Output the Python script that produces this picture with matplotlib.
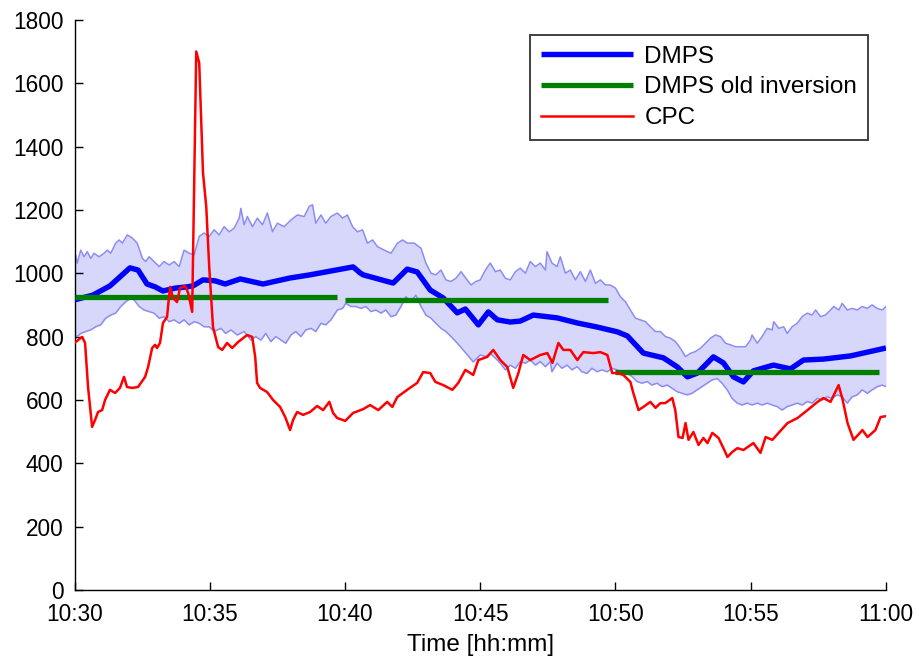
import matplotlib
matplotlib.use("Agg")
import matplotlib.pyplot as plt
import numpy as np

plt.rcParams['font.family'] = ['Liberation Sans', 'DejaVu Sans']

# Time axis is minutes after 10:30
tick_minutes = [0, 5, 10, 15, 20, 25, 30]
tick_labels = ["10:30", "10:35", "10:40", "10:45", "10:50", "10:55", "11:00"]
y_ticks = [0, 200, 400, 600, 800, 1000, 1200, 1400, 1600, 1800]

# DMPS total number concentration (smoothed)
dmps_t = [0.0, 0.68, 1.31, 2.05, 2.35, 2.68, 2.98, 3.27, 3.72, 4.16, 4.38, 4.75,
          5.20, 5.57, 6.13, 6.60, 6.97, 7.97, 8.71, 10.30, 10.56, 10.67, 11.78,
          12.30, 12.67, 13.15, 13.63, 14.15, 14.45, 14.93, 15.30, 15.63, 16.11,
          16.48, 16.96, 17.85, 18.59, 19.33, 20.07, 20.44, 21.03, 21.77, 22.29,
          22.66, 23.03, 23.62, 23.99, 24.36, 24.73, 25.10, 25.84, 26.47, 26.95,
          27.69, 28.69, 30.0]
dmps_v = [916, 931, 960, 1017, 1010, 966, 957, 944, 953, 957, 960, 979,
          976, 966, 982, 973, 966, 985, 995, 1020, 1001, 995, 969,
          1013, 1004, 947, 922, 875, 887, 837, 878, 853, 846,
          849, 868, 859, 843, 830, 815, 802, 748, 733, 704,
          673, 685, 736, 717, 673, 657, 692, 710, 698, 726,
          729, 739, 764]

# DMPS uncertainty envelope, upper edge
upper_t = [0.00, 0.10, 0.23, 0.35, 0.47, 0.60, 0.72, 0.91, 1.09, 1.21, 1.34, 1.52,
           1.65, 1.77, 1.95, 2.14, 2.32, 2.51, 2.63, 2.76, 2.94, 3.13, 3.31, 3.50,
           3.68, 3.87, 4.05, 4.24, 4.42, 4.61, 4.79, 4.98, 5.16, 5.35, 5.53, 5.72,
           5.90, 6.09, 6.15, 6.27, 6.39, 6.58, 6.76, 6.95, 7.13, 7.32, 7.50, 7.75,
           8.00, 8.24, 8.49, 8.68, 8.80, 8.92, 9.11, 9.29, 9.48, 9.72, 9.91, 10.09,
           10.28, 10.46, 10.65, 10.83, 11.02, 11.20, 11.45, 11.70, 11.94, 12.13,
           12.31, 12.56, 12.81, 12.99, 13.18, 13.36, 13.55, 13.73, 13.92, 14.10,
           14.29, 14.47, 14.66, 14.84, 15.00, 15.19, 15.37, 15.56, 15.74, 15.93,
           16.11, 16.30, 16.48, 16.67, 16.85, 17.04, 17.22, 17.41, 17.47, 17.65,
           17.84, 17.96, 18.15, 18.33, 18.52, 18.70, 18.89, 19.07, 19.26, 19.44,
           19.63, 19.81, 20.00, 20.18, 20.37, 20.55, 20.74, 20.92, 21.11, 21.29,
           21.48, 21.66, 21.85, 22.03, 22.22, 22.40, 22.59, 22.77, 22.96, 23.14,
           23.33, 23.51, 23.70, 23.88, 24.07, 24.25, 24.44, 24.62, 24.81, 24.99,
           25.05, 25.24, 25.42, 25.61, 25.79, 25.85, 26.04, 26.22, 26.35, 26.53,
           26.72, 26.90, 27.09, 27.27, 27.40, 27.58, 27.76, 27.95, 28.07, 28.26,
           28.38, 28.57, 28.75, 28.94, 29.12, 29.31, 29.49, 29.68, 29.86, 30.00]
upper_v = [1073, 1032, 1073, 1052, 1068, 1047, 1063, 1052, 1063, 1073, 1063, 1095,
           1105, 1095, 1121, 1111, 1095, 1047, 1037, 1052, 1037, 1021, 1037, 1026,
           1037, 1021, 1073, 1063, 1058, 1116, 1127, 1116, 1137, 1121, 1147, 1131,
           1142, 1174, 1205, 1153, 1179, 1147, 1174, 1153, 1190, 1131, 1158, 1147,
           1168, 1184, 1179, 1211, 1216, 1158, 1184, 1158, 1179, 1190, 1174, 1184,
           1147, 1131, 1137, 1095, 1105, 1084, 1073, 1063, 1095, 1105,
           1095, 1095, 1079, 1032, 1000, 995, 1010, 979, 974, 984,
           1005, 984, 963, 974, 979, 1010, 1032, 1005, 1010, 984,
           979, 1005, 1016, 1000, 1037, 1021, 1032, 1010, 1068, 1032,
           1021, 1052, 1000, 1010, 979, 1005, 974, 1010, 968, 979,
           963, 963, 953, 926, 910, 884, 858, 853, 847, 831,
           816, 816, 800, 795, 784, 763, 737, 747, 753, 763,
           779, 795, 805, 800, 779, 774, 768, 768, 768, 789,
           805, 779, 800, 826, 821, 847, 826, 831, 810, 831,
           842, 863, 874, 868, 884, 863, 868, 884, 895, 884,
           905, 884, 889, 884, 895, 889, 900, 889, 884, 895]

# DMPS uncertainty envelope, lower edge
lower_t = [0.00, 0.10, 0.23, 0.41, 0.60, 0.78, 0.97, 1.15, 1.34, 1.52, 1.71, 1.89,
           2.08, 2.20, 2.39, 2.57, 2.76, 2.94, 3.13, 3.31, 3.50, 3.68, 3.87, 4.05,
           4.24, 4.42, 4.61, 4.79, 4.98, 5.16, 5.41, 5.59, 5.78, 6.02, 6.27, 6.52,
           6.70, 6.89, 7.07, 7.26, 7.44, 7.63, 7.81, 8.00, 8.18, 8.37, 8.55, 8.74,
           8.92, 9.11, 9.29, 9.48, 9.72, 9.91, 10.03, 10.22, 10.40, 10.59, 10.77,
           10.96, 11.14, 11.33, 11.51, 11.70, 11.88, 12.07, 12.25, 12.44, 12.62,
           12.81, 12.99, 13.18, 13.36, 13.55, 13.73, 13.92, 14.10, 14.37, 14.74,
           15.00, 15.19, 15.37, 15.56, 15.74, 15.93, 16.11, 16.30, 16.48, 16.67,
           16.85, 17.04, 17.22, 17.41, 17.59, 17.65, 17.84, 18.02, 18.21, 18.39,
           18.58, 18.76, 18.95, 19.13, 19.32, 19.50, 19.69, 19.87, 20.06, 20.24,
           20.43, 20.61, 20.80, 20.98, 21.17, 21.35, 21.54, 21.72, 21.91, 22.09,
           22.28, 22.46, 22.65, 22.83, 23.02, 23.20, 23.39, 23.57, 23.76, 23.94,
           24.13, 24.31, 24.50, 24.68, 24.87, 25.05, 25.24, 25.42, 25.61, 25.79,
           25.98, 26.16, 26.35, 26.53, 26.72, 26.90, 27.09, 27.27, 27.46, 27.64,
           27.83, 28.01, 28.20, 28.38, 28.57, 28.75, 28.94, 29.12, 29.31, 29.49,
           29.68, 29.86, 30.00]
lower_v = [805, 800, 810, 816, 821, 831, 837, 858, 868, 874, 895, 910,
           921, 916, 895, 884, 879, 874, 858, 863, 847, 853, 842, 853,
           837, 847, 842, 831, 831, 816, 826, 810, 821, 805, 816, 789,
           800, 789, 810, 784, 800, 789, 779, 805, 816, 800, 821, 826,
           816, 842, 837, 853, 884, 889, 905, 895, 895, 889, 895,
           879, 884, 874, 884, 863, 868, 895, 926, 910, 931,
           895, 868, 858, 842, 826, 816, 800, 784, 758, 720,
           742, 737, 747, 732, 716, 695, 710, 700, 721, 716,
           726, 710, 721, 705, 721, 689, 716, 700, 710, 695,
           705, 689, 684, 700, 689, 695, 689, 700, 695, 689,
           684, 674, 658, 653, 658, 647, 653, 642, 647, 637,
           626, 621, 616, 621, 632, 642, 653, 663, 668, 653,
           632, 605, 590, 584, 590, 584, 590, 584, 590, 584,
           579, 568, 579, 584, 590, 584, 595, 590, 605, 600,
           610, 605, 616, 610, 590, 610, 616, 632, 621, 632,
           642, 647, 642]

# DMPS with the old inversion: one mean value per 10-minute block
old_start = [0.0, 10.0, 20.0]
old_end = [9.70, 19.72, 29.75]
old_value = [926, 916, 689]

# CPC total number concentration
cpc_t = [0.0, 0.28, 0.39, 0.50, 0.65, 0.76, 0.87, 1.02, 1.13, 1.31, 1.50, 1.68,
         1.83, 1.94, 2.13, 2.35, 2.61, 2.72, 2.87, 2.98, 3.05, 3.16, 3.27, 3.42,
         3.53, 3.64, 3.79, 3.90, 4.09, 4.20, 4.35, 4.50, 4.61, 4.75, 4.87, 4.98,
         5.12, 5.31, 5.46, 5.64, 5.83, 6.05, 6.38, 6.57, 6.68, 6.75, 6.86, 7.12,
         7.34, 7.60, 7.79, 7.97, 8.08, 8.23, 8.45, 8.71, 8.97, 9.19, 9.42, 9.56,
         9.71, 10.01, 10.30, 10.67, 10.93, 11.23, 11.56, 11.75, 11.93, 12.30, 12.67,
         12.89, 13.15, 13.34, 13.63, 13.97, 14.19, 14.45, 14.74, 14.93, 15.26,
         15.48, 15.74, 16.00, 16.22, 16.41, 16.59, 16.85, 17.22, 17.48, 17.67,
         17.89, 18.07, 18.33, 18.59, 18.81, 19.18, 19.44, 19.70, 19.88, 20.07,
         20.29, 20.55, 20.66, 20.85, 21.03, 21.29, 21.48, 21.66, 21.84, 22.10,
         22.21, 22.33, 22.48, 22.59, 22.70, 22.88, 23.07, 23.25, 23.40, 23.58,
         23.81, 23.99, 24.14, 24.32, 24.51, 24.73, 25.10, 25.36, 25.55, 25.80,
         26.03, 26.36, 26.73, 27.10, 27.47, 27.69, 27.95, 28.25, 28.40, 28.58,
         28.80, 29.13, 29.32, 29.61, 29.80, 30.0]
cpc_v = [780, 799, 780, 641, 515, 537, 562, 568, 600, 632, 622, 638,
         673, 641, 638, 641, 673, 704, 764, 774, 764, 780, 843, 862,
         957, 922, 909, 953, 960, 938, 878, 1700, 1664, 1317, 1210, 1020,
         830, 767, 758, 780, 764, 783, 805, 799, 736, 654, 638, 625,
         600, 578, 546, 505, 537, 562, 553, 562, 581, 568, 594, 559,
         543, 534, 559, 571, 584, 568, 594, 578, 609, 632, 654,
         688, 685, 657, 647, 632, 654, 695, 679, 726, 736,
         758, 726, 704, 638, 685, 742, 726, 742, 748, 717,
         780, 758, 758, 726, 751, 748, 751, 742, 685, 685,
         679, 657, 622, 568, 578, 594, 575, 590, 590, 606,
         568, 483, 480, 527, 474, 499, 458, 480, 464, 496,
         480, 448, 420, 436, 448, 442, 464, 433, 483, 474,
         496, 527, 543, 568, 594, 606, 594, 647, 600, 527,
         474, 505, 483, 505, 546, 549]

fig = plt.figure(figsize=(9.2, 6.6), dpi=100)
ax = fig.add_axes([0.081, 0.106, 0.882, 0.864])

# Envelope: shared time grid so the fill can follow both edges
grid = np.union1d(upper_t, lower_t)
up_i = np.interp(grid, upper_t, upper_v)
lo_i = np.interp(grid, lower_t, lower_v)
ax.fill_between(grid, lo_i, up_i, color='#d7d7fb', linewidth=0, zorder=1)
ax.plot(upper_t, upper_v, color='#8c8cf2', linewidth=1.1, zorder=2)
ax.plot(lower_t, lower_v, color='#8c8cf2', linewidth=1.1, zorder=2)

h_dmps, = ax.plot(dmps_t, dmps_v, color='#0000ff', linewidth=3.9,
                  solid_capstyle='butt', solid_joinstyle='round', zorder=3,
                  label='DMPS')
h_old = None
for s, e, v in zip(old_start, old_end, old_value):
    h_old, = ax.plot([s, e], [v, v], color='#008000', linewidth=3.8,
                     solid_capstyle='butt', zorder=4, label='DMPS old inversion')
h_cpc, = ax.plot(cpc_t, cpc_v, color='#ff0000', linewidth=1.8,
                 solid_joinstyle='round', zorder=5, label='CPC')

ax.set_xlim(0, 30)
ax.set_ylim(0, 1800)
ax.set_xticks(tick_minutes)
ax.set_xticklabels(tick_labels)
ax.set_yticks(y_ticks)
ax.tick_params(direction='in', length=6, width=1, labelsize=16.3,
               top=False, right=False)
ax.tick_params(axis='y', pad=8)
ax.tick_params(axis='x', pad=9.6)
for side in ('top', 'right'):
    ax.spines[side].set_visible(False)
for side in ('left', 'bottom'):
    ax.spines[side].set_linewidth(1.0)
ax.set_xlabel('Time [hh:mm]', fontsize=17.5, labelpad=5.5)

leg = ax.legend(handles=[h_dmps, h_old, h_cpc], loc='upper right',
                bbox_to_anchor=(0.978, 0.974), fontsize=17.5, frameon=True,
                fancybox=False, handlelength=3.8, handletextpad=0.45,
                borderpad=0.45, labelspacing=0.36, borderaxespad=0.0)
leg.get_frame().set_edgecolor('black')
leg.get_frame().set_linewidth(1.3)

fig.savefig('out.png', dpi=100)
